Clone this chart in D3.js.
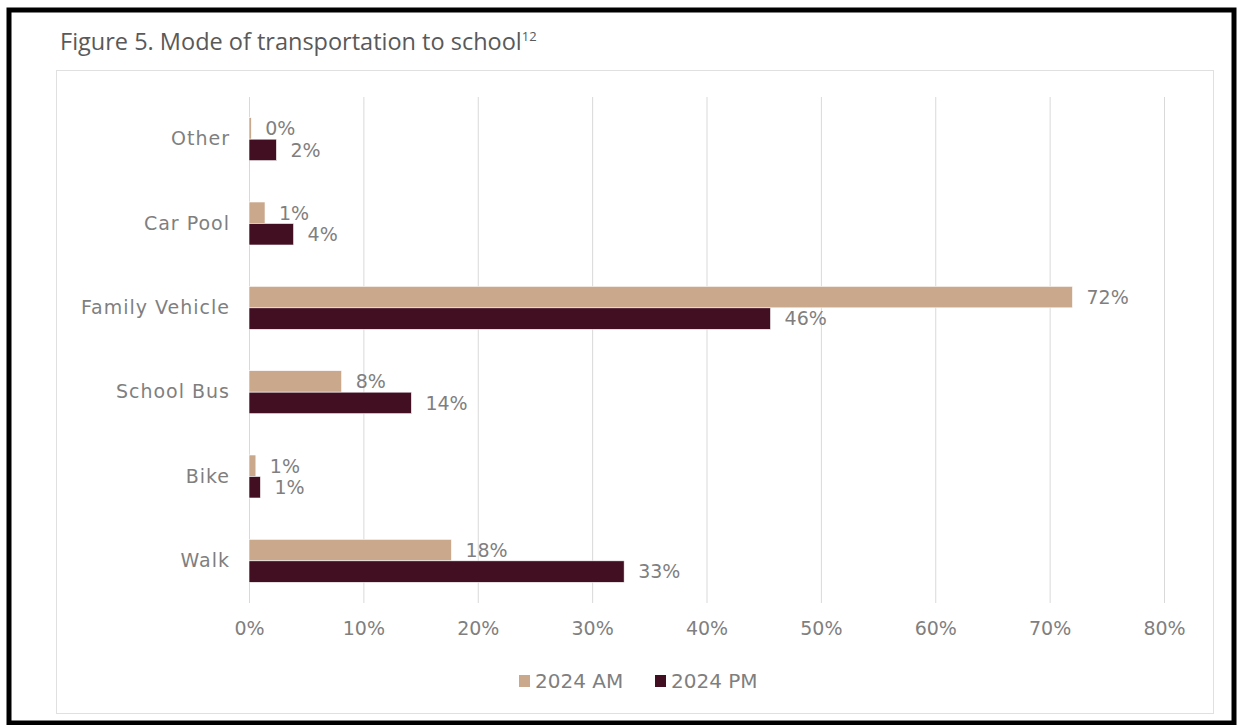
<!DOCTYPE html>
<html lang="en">
<head>
  <meta charset="UTF-8">
  <title>Figure 5. Mode of transportation to school</title>
  <script src="https://d3js.org/d3.v7.min.js"></script>
  <style>
    body { margin: 0; background: #fff; }
    svg { display: block; font-family: "DejaVu Sans", sans-serif; }
    .title { font-family: "Open Sans", sans-serif; font-size: 23.5px; fill: #595959; }
    .grid line { stroke: #d9d9d9; stroke-width: 1; }
    .lbl { font-family: "DejaVu Sans", sans-serif; font-size: 19px; fill: #7f7f7f; }
    .cat { letter-spacing: 1px; }
  </style>
</head>
<body>
<svg width="1239" height="725"></svg>
<script>
// categories top to bottom, as in the picture
const categories = ["Other", "Car Pool", "Family Vehicle", "School Bus", "Bike", "Walk"];
const seriesNames = ["2024 AM", "2024 PM"];
const seriesColors = ["#c9a88c", "#420f22"];
const amValues = [0.002, 0.014, 0.72, 0.081, 0.006, 0.177];
const pmValues = [0.024, 0.039, 0.456, 0.142, 0.010, 0.328];
const tickValues = [0, 0.1, 0.2, 0.3, 0.4, 0.5, 0.6, 0.7, 0.8];

const svg = d3.select("svg");

// outer black frame and inner light frame
svg.append("rect")
  .attr("x", 9).attr("y", 10).attr("width", 1225).attr("height", 713)
  .attr("fill", "none").attr("stroke", "#000").attr("stroke-width", 5);
svg.append("rect")
  .attr("x", 56.5).attr("y", 70.5).attr("width", 1157).attr("height", 643)
  .attr("fill", "none").attr("stroke", "#e0e0e0").attr("stroke-width", 1);

// title with superscript
const title = svg.append("text").attr("class", "title").attr("x", 60).attr("y", 50)
  .text("Figure 5. Mode of transportation to school");
title.append("tspan").attr("dy", -9).attr("font-size", "13px").text("12");

const x = d3.scaleLinear().domain([0, 0.8]).range([249, 1164]);
const y = d3.scaleBand().domain(categories).range([97, 603])
  .paddingInner(0.49).paddingOuter(0.245);
const ySub = d3.scaleBand().domain(seriesNames).range([0, y.bandwidth()]);

// vertical gridlines
svg.append("g").attr("class", "grid")
  .selectAll("line").data(tickValues).join("line")
  .attr("x1", d => x(d) + 0.5).attr("x2", d => x(d) + 0.5)
  .attr("y1", 97).attr("y2", 603);

// x axis labels
const fmt = d3.format(".0%");
const xAxis = svg.append("g").attr("transform", "translate(0,603)")
  .call(d3.axisBottom(x).tickValues(tickValues).tickFormat(fmt).tickSize(0).tickPadding(19));
xAxis.select(".domain").remove();
xAxis.selectAll("text").attr("class", "lbl").attr("fill", null);

// category labels
const yAxis = svg.append("g").attr("transform", "translate(249,0)")
  .call(d3.axisLeft(y).tickSize(0).tickPadding(19));
yAxis.select(".domain").remove();
yAxis.selectAll("text").attr("class", "lbl cat").attr("fill", null);

// bars
const rows = categories.map((c, i) => ({ cat: c, vals: [amValues[i], pmValues[i]] }));
const groups = svg.append("g").selectAll("g").data(rows).join("g")
  .attr("transform", d => `translate(0,${y(d.cat)})`);

const cells = groups.selectAll("g").data(d => d.vals.map((v, k) => ({ v, k }))).join("g");

cells.append("rect")
  .attr("x", x(0))
  .attr("y", d => ySub(seriesNames[d.k]))
  .attr("width", d => x(d.v) - x(0))
  .attr("height", ySub.bandwidth())
  .attr("fill", d => seriesColors[d.k])
  .attr("stroke", "#ffffff").attr("stroke-width", 0.6);

cells.append("text")
  .attr("class", "lbl")
  .attr("x", d => x(d.v) + 14)
  .attr("y", d => ySub(seriesNames[d.k]) + ySub.bandwidth() / 2)
  .attr("dy", "0.36em")
  .text(d => fmt(d.v));

// legend
const legendX = [519, 655];
const legend = svg.append("g").selectAll("g").data(seriesNames).join("g")
  .attr("transform", (d, i) => `translate(${legendX[i]},681)`);
legend.append("rect").attr("x", 0).attr("y", -6).attr("width", 11).attr("height", 12)
  .attr("fill", (d, i) => seriesColors[i]);
legend.append("text").attr("class", "lbl").attr("x", 16).attr("dy", "0.36em")
  .style("font-size", "20px").text(d => d);
</script>
</body>
</html>
